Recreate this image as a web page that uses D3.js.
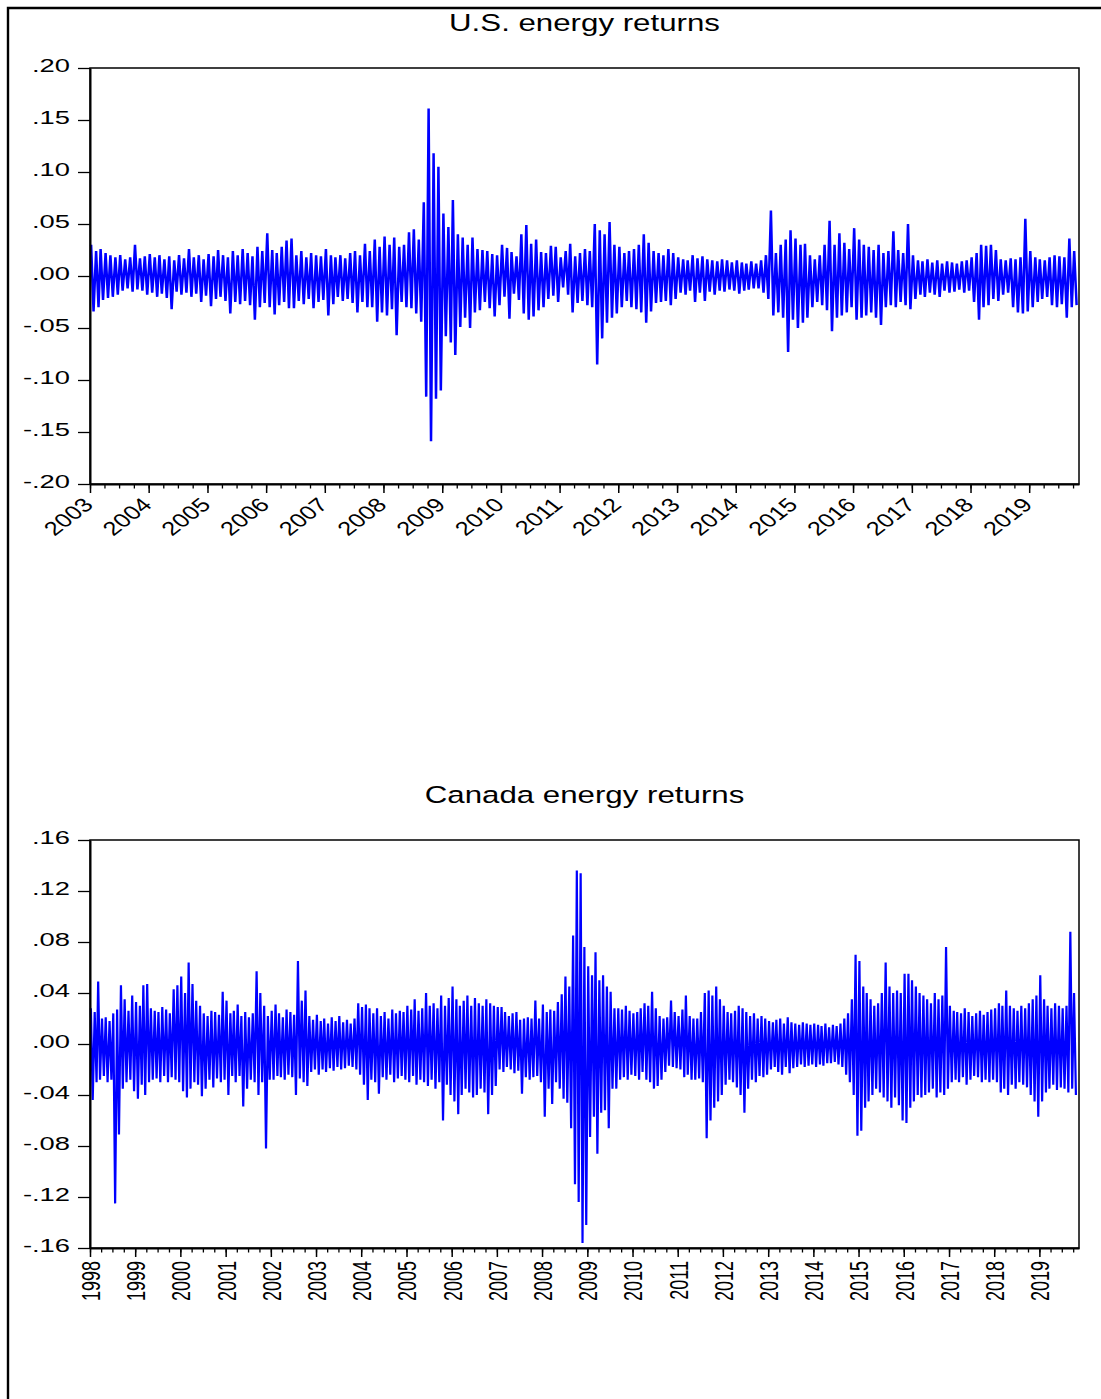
<!DOCTYPE html>
<meta charset="utf-8">
<script src="https://d3js.org/d3.v7.min.js"></script>
<style>
body { margin: 0; background: #fff; }
svg text { font-family: "Liberation Sans", Arial, sans-serif; fill: #000; }
</style>
<body>
<svg id="chart" width="1101" height="1399"></svg>
<script>

// monthly high / low readings of the daily returns
// U.S.: Jan 2003 .. Oct 2019, one row per year
var usHigh = [
  .030,.024,.026,.022,.020,.018,.020,.016,.018,.030,.017,.019,
  .021,.018,.020,.016,.019,.015,.020,.017,.026,.018,.020,.016,
  .021,.019,.025,.020,.018,.024,.020,.026,.022,.019,.028,.024,
  .041,.025,.022,.028,.034,.036,.020,.024,.018,.022,.020,.019,
  .026,.020,.018,.020,.017,.022,.024,.020,.031,.024,.035,.028,
  .038,.030,.037,.028,.030,.042,.045,.035,.071,.161,.118,.105,
  .060,.047,.073,.040,.037,.030,.037,.026,.025,.024,.021,.020,
  .030,.027,.023,.019,.040,.049,.031,.035,.023,.022,.029,.028,
  .018,.024,.031,.019,.022,.026,.024,.050,.044,.040,.052,.030,
  .028,.022,.024,.026,.030,.040,.032,.024,.022,.020,.026,.022,
  .018,.016,.015,.020,.017,.019,.016,.015,.014,.016,.015,.013,
  .015,.013,.012,.014,.012,.015,.020,.063,.022,.030,.035,.044,
  .036,.030,.031,.020,.016,.020,.030,.053,.030,.041,.032,.026,
  .046,.035,.030,.028,.025,.030,.022,.024,.043,.025,.022,.050,
  .020,.015,.014,.016,.013,.015,.012,.014,.013,.012,.014,.015,
  .018,.022,.030,.029,.030,.025,.016,.015,.017,.016,.018,.055,
  .024,.018,.016,.015,.018,.020,.019,.018,.036,.024
];
var usLow = [
  -.034,-.030,-.023,-.021,-.020,-.018,-.014,-.012,-.015,-.013,-.014,-.018,
  -.016,-.020,-.017,-.021,-.032,-.015,-.018,-.016,-.020,-.017,-.025,-.019,
  -.029,-.022,-.020,-.024,-.036,-.025,-.027,-.024,-.028,-.042,-.030,-.026,
  -.030,-.037,-.028,-.025,-.031,-.031,-.024,-.027,-.022,-.031,-.025,-.023,
  -.038,-.027,-.020,-.024,-.022,-.026,-.035,-.025,-.030,-.030,-.044,-.035,
  -.038,-.032,-.057,-.025,-.030,-.031,-.036,-.044,-.116,-.159,-.118,-.110,
  -.058,-.064,-.076,-.049,-.040,-.050,-.035,-.033,-.025,-.031,-.039,-.028,
  -.020,-.041,-.017,-.023,-.036,-.042,-.039,-.033,-.030,-.022,-.019,-.025,
  -.011,-.018,-.035,-.026,-.024,-.028,-.030,-.085,-.060,-.045,-.040,-.036,
  -.030,-.024,-.030,-.032,-.035,-.045,-.034,-.026,-.025,-.024,-.028,-.022,
  -.016,-.018,-.014,-.025,-.016,-.024,-.015,-.018,-.014,-.015,-.013,-.014,
  -.017,-.014,-.013,-.012,-.012,-.016,-.022,-.038,-.035,-.040,-.073,-.042,
  -.050,-.045,-.040,-.030,-.025,-.028,-.033,-.053,-.040,-.038,-.035,-.030,
  -.042,-.040,-.038,-.035,-.040,-.047,-.030,-.028,-.030,-.025,-.028,-.032,
  -.022,-.018,-.020,-.016,-.018,-.020,-.014,-.016,-.015,-.013,-.016,-.014,
  -.025,-.042,-.030,-.028,-.022,-.024,-.018,-.016,-.030,-.035,-.036,-.034,
  -.030,-.025,-.022,-.020,-.028,-.030,-.027,-.040,-.030,-.028
];

// Canada: Jan 1998 .. Oct 2019
var caHigh = [
  .028,.025,.049,.020,.021,.018,.024,.027,.046,.035,.026,.038,
  .033,.030,.046,.047,.028,.026,.025,.029,.027,.024,.043,.046,
  .053,.040,.064,.047,.034,.030,.024,.022,.026,.025,.023,.041,
  .034,.024,.026,.031,.022,.025,.021,.024,.057,.040,.030,.022,
  .026,.031,.024,.021,.027,.025,.023,.065,.034,.042,.022,.019,
  .023,.018,.020,.016,.021,.018,.022,.017,.019,.016,.020,.032,
  .029,.031,.028,.024,.028,.022,.025,.020,.027,.024,.026,.025,
  .030,.027,.035,.026,.028,.040,.030,.032,.028,.038,.030,.036,
  .045,.035,.030,.034,.038,.030,.036,.032,.030,.035,.032,.030,
  .029,.029,.025,.022,.024,.025,.019,.020,.021,.020,.034,.020,
  .031,.025,.027,.026,.033,.039,.053,.045,.085,.136,.134,.076,
  .061,.054,.072,.050,.054,.045,.041,.028,.028,.027,.030,.026,
  .024,.025,.028,.032,.030,.041,.028,.022,.020,.021,.034,.025,
  .022,.027,.038,.022,.020,.020,.025,.040,.042,.038,.045,.035,
  .030,.025,.024,.026,.030,.028,.025,.022,.024,.020,.022,.020,
  .018,.017,.019,.020,.016,.021,.017,.016,.015,.017,.016,.015,
  .016,.015,.014,.016,.013,.015,.014,.016,.020,.024,.035,.070,
  .065,.045,.040,.035,.030,.032,.040,.064,.045,.040,.042,.040,
  .055,.055,.050,.045,.040,.038,.035,.032,.040,.035,.038,.076,
  .030,.026,.025,.024,.028,.025,.022,.024,.026,.023,.025,.027,
  .028,.032,.030,.042,.030,.028,.026,.030,.028,.032,.035,.038,
  .054,.035,.030,.028,.032,.030,.028,.030,.088,.040
];
var caLow = [
  -.044,-.030,-.028,-.025,-.030,-.028,-.125,-.071,-.035,-.030,-.028,-.037,
  -.043,-.032,-.040,-.030,-.028,-.027,-.030,-.025,-.030,-.026,-.028,-.030,
  -.037,-.042,-.035,-.030,-.032,-.041,-.035,-.028,-.034,-.027,-.030,-.028,
  -.040,-.025,-.030,-.025,-.049,-.035,-.028,-.030,-.040,-.030,-.082,-.028,
  -.028,-.025,-.026,-.028,-.024,-.026,-.040,-.027,-.030,-.033,-.022,-.020,
  -.024,-.020,-.022,-.019,-.021,-.018,-.020,-.019,-.017,-.018,-.020,-.024,
  -.032,-.044,-.028,-.030,-.039,-.026,-.028,-.024,-.030,-.027,-.025,-.028,
  -.030,-.025,-.032,-.028,-.030,-.033,-.028,-.035,-.030,-.060,-.032,-.040,
  -.045,-.055,-.040,-.035,-.038,-.042,-.040,-.035,-.038,-.055,-.040,-.033,
  -.020,-.022,-.018,-.020,-.023,-.021,-.039,-.026,-.028,-.026,-.025,-.030,
  -.057,-.035,-.047,-.030,-.035,-.043,-.046,-.066,-.110,-.124,-.156,-.142,
  -.073,-.057,-.086,-.054,-.052,-.066,-.035,-.035,-.028,-.026,-.028,-.024,
  -.025,-.028,-.022,-.028,-.030,-.035,-.033,-.028,-.022,-.017,-.018,-.019,
  -.020,-.026,-.024,-.028,-.028,-.027,-.030,-.074,-.060,-.050,-.045,-.040,
  -.032,-.028,-.030,-.034,-.040,-.054,-.035,-.028,-.030,-.025,-.026,-.024,
  -.020,-.018,-.022,-.024,-.018,-.023,-.019,-.018,-.016,-.018,-.017,-.016,
  -.018,-.016,-.017,-.015,-.015,-.014,-.016,-.018,-.024,-.030,-.040,-.072,
  -.068,-.050,-.045,-.040,-.035,-.038,-.042,-.045,-.050,-.042,-.048,-.060,
  -.062,-.050,-.045,-.040,-.042,-.040,-.038,-.035,-.042,-.038,-.040,-.035,
  -.030,-.028,-.030,-.026,-.032,-.028,-.025,-.026,-.030,-.028,-.030,-.028,
  -.030,-.038,-.035,-.040,-.032,-.035,-.030,-.032,-.034,-.040,-.045,-.057,
  -.045,-.038,-.035,-.032,-.036,-.034,-.035,-.038,-.035,-.040
];

var usTicks = [-.20, -.15, -.10, -.05, 0, .05, .10, .15, .20];
var caTicks = [-.16, -.12, -.08, -.04, 0, .04, .08, .12, .16];
var usYears = [2003,2004,2005,2006,2007,2008,2009,2010,2011,2012,2013,2014,2015,2016,2017,2018,2019];
var caYears = [1998,1999,2000,2001,2002,2003,2004,2005,2006,2007,2008,2009,2010,2011,2012,2013,2014,2015,2016,2017,2018,2019];

var svg = d3.select("#chart");
svg.append("rect").attr("width", 1101).attr("height", 1399).attr("fill", "#fff");

// outer frame (left and top edge only)
svg.append("path")
  .attr("d", "M8,1399V8H1101")
  .attr("fill", "none")
  .attr("stroke", "#000")
  .attr("stroke-width", 2.4);

// ".20", "-.05" style labels
function fmt(v) {
  return (v < 0 ? "-" : "") + Math.abs(v).toFixed(2).replace(/^0/, "");
}

function panel(o) {
  var x = d3.scaleTime().domain([o.start, o.end]).range([90, 1079]);
  var y = d3.scaleLinear()
    .domain([o.yTicks[0], o.yTicks[o.yTicks.length - 1]])
    .range([o.bottom, o.top]);

  var g = svg.append("g");

  g.append("text")
    .attr("transform", "translate(584.5," + o.titleY + ") scale(1.33,1)")
    .attr("text-anchor", "middle")
    .style("font-size", "23.5px")
    .text(o.title);

  // each month: high early in the month, low late in the month
  var pts = [];
  o.high.forEach(function(h, i) {
    pts.push({d: new Date(o.y0, i, 8), v: h});
    pts.push({d: new Date(o.y0, i, 23), v: o.low[i]});
  });

  g.append("path")
    .datum(pts)
    .attr("fill", "none")
    .attr("stroke", "#0000ff")
    .attr("stroke-width", o.lw)
    .attr("stroke-linejoin", "bevel")
    .attr("d", d3.line().x(function(d) { return x(d.d); }).y(function(d) { return y(d.v); }));

  g.append("rect")
    .attr("x", 90).attr("y", o.top)
    .attr("width", 989).attr("height", o.bottom - o.top)
    .attr("fill", "none")
    .attr("stroke", "#000")
    .attr("stroke-width", 1.5);

  // Y axis
  var ya = g.append("g")
    .attr("transform", "translate(90,0)")
    .call(d3.axisLeft(y).tickValues(o.yTicks).tickSize(12).tickSizeOuter(0).tickFormat(fmt));
  ya.select(".domain").attr("stroke-width", 2);
  ya.selectAll(".tick line").attr("stroke-width", 1.3);
  ya.selectAll(".tick text")
    .attr("x", 0).attr("dy", null)
    .attr("transform", "translate(-20,3) scale(1.52,1)")
    .style("font-size", "18px");

  // X axis: quarterly minor ticks, yearly major ticks
  var xm = g.append("g")
    .attr("transform", "translate(0," + o.bottom + ")")
    .call(d3.axisBottom(x).ticks(d3.timeMonth.every(3)).tickSize(4.5).tickSizeOuter(0).tickFormat(""));
  xm.selectAll(".tick line").attr("stroke-width", 1.3);
  xm.select(".domain").attr("stroke-width", 2);

  var xa = g.append("g")
    .attr("transform", "translate(0," + o.bottom + ")")
    .call(d3.axisBottom(x)
      .tickValues(o.years.map(function(yr) { return new Date(yr, 0, 1); }))
      .tickSize(9).tickSizeOuter(0)
      .tickFormat(d3.timeFormat("%Y")));
  xa.select(".domain").remove();
  xa.selectAll(".tick line").attr("stroke-width", 1.5);
  var lab = xa.selectAll(".tick text").attr("x", 0).attr("y", 0).attr("text-anchor", "end");
  if (o.vertical) {
    lab.attr("dy", "0.36em")
      .attr("transform", "translate(0,13) scale(1.45,1) rotate(-90)")
      .style("font-size", "18px");
  } else {
    lab.attr("dy", null)
      .attr("transform", "translate(4,22) scale(1.3,1) rotate(-45)")
      .style("font-size", "19.5px");
  }
}

panel({
  title: "U.S. energy returns", titleY: 31,
  top: 68, bottom: 484,
  start: new Date(2003, 0, 1), end: new Date(2019, 10, 7),
  y0: 2003, high: usHigh, low: usLow, lw: 2.5,
  yTicks: usTicks, years: usYears, vertical: false
});

panel({
  title: "Canada energy returns", titleY: 803,
  top: 840, bottom: 1248,
  start: new Date(1998, 0, 1), end: new Date(2019, 10, 17),
  y0: 1998, high: caHigh, low: caLow, lw: 2.2,
  yTicks: caTicks, years: caYears, vertical: true
});

</script>
</body>
